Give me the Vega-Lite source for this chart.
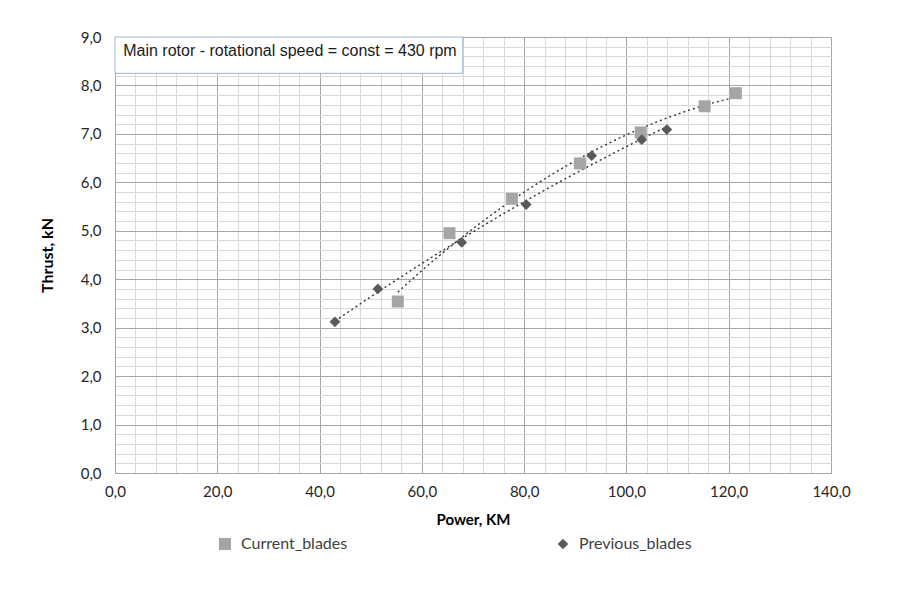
{
  "$schema": "https://vega.github.io/schema/vega-lite/v6.json",
  "width": 716,
  "height": 436,
  "autosize": {"type": "none"},
  "padding": {"left": 115, "top": 37, "right": 71, "bottom": 118},
  "background": "white",
  "config": {
    "view": {"stroke": "#bfbfbf", "strokeWidth": 1},
    "font": "Lato"
  },
  "datasets": {
    "pts": [
      {"series": "Current_blades", "power": 55.3, "thrust": 3.54},
      {"series": "Current_blades", "power": 65.4, "thrust": 4.95},
      {"series": "Current_blades", "power": 77.6, "thrust": 5.66},
      {"series": "Current_blades", "power": 90.9, "thrust": 6.39},
      {"series": "Current_blades", "power": 102.8, "thrust": 7.03},
      {"series": "Current_blades", "power": 115.3, "thrust": 7.57},
      {"series": "Current_blades", "power": 121.4, "thrust": 7.84},
      {"series": "Previous_blades", "power": 43.0, "thrust": 3.12},
      {"series": "Previous_blades", "power": 51.4, "thrust": 3.8},
      {"series": "Previous_blades", "power": 67.8, "thrust": 4.76},
      {"series": "Previous_blades", "power": 80.4, "thrust": 5.54},
      {"series": "Previous_blades", "power": 93.2, "thrust": 6.55},
      {"series": "Previous_blades", "power": 103.0, "thrust": 6.88},
      {"series": "Previous_blades", "power": 107.9, "thrust": 7.09}
    ]
  },
  "layer": [
    {
      "data": {"name": "pts"},
      "transform": [
        {"regression": "thrust", "on": "power", "method": "poly", "order": 2, "groupby": ["series"]}
      ],
      "mark": {"type": "line", "color": "#333333", "strokeWidth": 1.4, "strokeDash": [2, 3]},
      "encoding": {
        "x": {
          "field": "power", "type": "quantitative",
          "scale": {"domain": [0, 140], "nice": false, "zero": true},
          "axis": {
            "values": [0,4,8,12,16,20,24,28,32,36,40,44,48,52,56,60,64,68,72,76,80,84,88,92,96,100,104,108,112,116,120,124,128,132,136,140],
            "tickCount": 200,
            "labelExpr": "datum.value % 20 === 0 ? replace(format(datum.value, '.1f'), '.', ',') : ''",
            "gridColor": {"condition": {"test": "datum.value % 20 === 0", "value": "#a6a6a6"}, "value": "#d9d9d9"},
            "grid": true,
            "ticks": false,
            "tickSize": 0,
            "domainColor": "#a6a6a6",
            "labelFlush": false,
            "labelOverlap": false,
            "labelFont": "Lato",
            "labelFontSize": 15,
            "labelColor": "#262626",
            "labelPadding": 11,
            "title": "Power, KM",
            "titleFont": "Lato",
            "titleFontSize": 15,
            "titleFontWeight": "bold",
            "titleColor": "#000000",
            "titlePadding": 13
          }
        },
        "y": {
          "field": "thrust", "type": "quantitative",
          "scale": {"domain": [0, 9], "nice": false, "zero": true},
          "axis": {
            "values": [0,0.2,0.4,0.6,0.8,1,1.2,1.4,1.6,1.8,2,2.2,2.4,2.6,2.8,3,3.2,3.4,3.6,3.8,4,4.2,4.4,4.6,4.8,5,5.2,5.4,5.6,5.8,6,6.2,6.4,6.6,6.8,7,7.2,7.4,7.6,7.8,8,8.2,8.4,8.6,8.8,9],
            "tickCount": 200,
            "labelExpr": "abs(datum.value - round(datum.value)) < 0.01 ? replace(format(datum.value, '.1f'), '.', ',') : ''",
            "gridColor": {"condition": {"test": "abs(datum.value - round(datum.value)) < 0.01", "value": "#a6a6a6"}, "value": "#d9d9d9"},
            "grid": true,
            "ticks": false,
            "tickSize": 0,
            "domainColor": "#a6a6a6",
            "labelFlush": false,
            "labelOverlap": false,
            "labelFont": "Lato",
            "labelFontSize": 15,
            "labelColor": "#262626",
            "labelPadding": 14,
            "title": "Thrust, kN",
            "titleFont": "Lato",
            "titleFontSize": 16,
            "titleFontWeight": "bold",
            "titleColor": "#000000",
            "titlePadding": 25
          }
        },
        "detail": {"field": "series"}
      }
    },
    {
      "data": {"name": "pts"},
      "mark": {"type": "point", "filled": true, "opacity": 1},
      "encoding": {
        "x": {"field": "power", "type": "quantitative"},
        "y": {"field": "thrust", "type": "quantitative"},
        "color": {
          "field": "series", "type": "nominal",
          "scale": {"domain": ["Current_blades", "Previous_blades"], "range": ["#a5a5a5", "#595959"]},
          "legend": {
            "orient": "none",
            "legendX": 102,
            "legendY": 499,
            "direction": "horizontal",
            "columns": 2,
            "columnPadding": 207,
            "title": null,
            "labelFont": "Lato",
            "labelFontSize": 16,
            "labelColor": "#404040",
            "labelOffset": 8,
            "symbolSize": 81,
            "symbolStrokeWidth": 0
          }
        },
        "shape": {
          "field": "series", "type": "nominal",
          "scale": {"domain": ["Current_blades", "Previous_blades"], "range": ["square", "diamond"]}
        },
        "size": {
          "field": "series", "type": "nominal",
          "scale": {"domain": ["Current_blades", "Previous_blades"], "range": [144, 115]},
          "legend": null
        }
      }
    },
    {
      "data": {"values": [{}]},
      "mark": {"type": "rect", "fill": "white", "stroke": "#9db2d0", "strokeWidth": 1},
      "encoding": {
        "x": {"datum": 0, "type": "quantitative"},
        "x2": {"datum": 68},
        "y": {"datum": 9, "type": "quantitative"},
        "y2": {"datum": 8.25}
      }
    },
    {
      "data": {"values": [{}]},
      "mark": {"type": "text", "text": "Main rotor - rotational speed = const = 430 rpm", "font": "Liberation Sans", "fontSize": 16, "align": "left", "baseline": "middle", "color": "#1a1a1a"},
      "encoding": {
        "x": {"datum": 1.6, "type": "quantitative"},
        "y": {"datum": 8.72, "type": "quantitative"}
      }
    }
  ]
}
